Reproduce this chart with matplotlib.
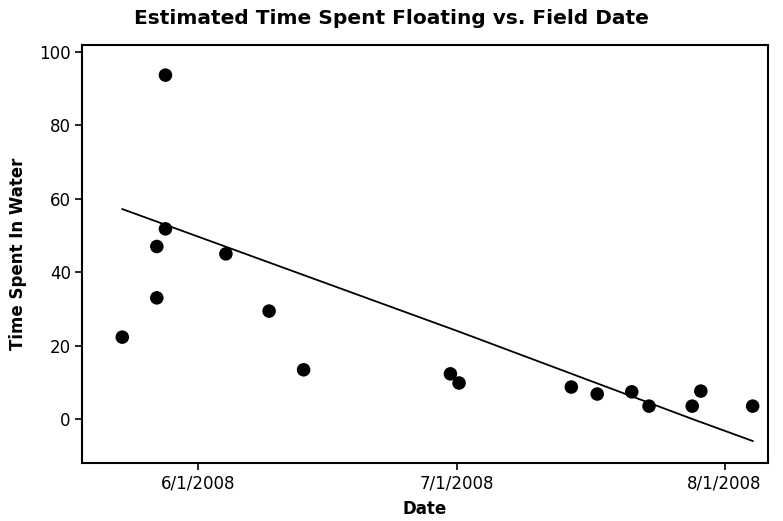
import datetime as dt
import matplotlib
matplotlib.use("Agg")
import matplotlib.pyplot as plt
import matplotlib.dates as mdates

# field dates and estimated time spent in water
fechas = ["2008-05-23", "2008-05-27", "2008-05-27", "2008-05-28", "2008-05-28",
          "2008-06-04", "2008-06-09", "2008-06-13", "2008-06-30", "2008-07-01",
          "2008-07-14", "2008-07-17", "2008-07-21", "2008-07-23", "2008-07-28",
          "2008-07-29", "2008-08-04"]
tiempo_agua = [22.3, 33.0, 47.0, 93.7, 51.8, 45.0, 29.4, 13.4, 12.3, 9.8,
               8.7, 6.8, 7.4, 3.5, 3.5, 7.6, 3.5]

# fitted line
fechas_linea = ["2008-05-23", "2008-06-01", "2008-07-01", "2008-07-28", "2008-08-04"]
valores_linea = [57.2, 49.5, 23.8, 0.0, -6.0]

ticks_x = ["2008-06-01", "2008-07-01", "2008-08-01"]
ticks_y = [0, 20, 40, 60, 80, 100]

def a_fecha(lista):
    # field visits plotted a few hours into the day
    return [dt.datetime.strptime(f, "%Y-%m-%d") + dt.timedelta(hours=6) for f in lista]

fig = plt.figure(figsize=(7.83, 5.21), dpi=100)
ax = fig.add_axes([0.1047, 0.1113, 0.8763, 0.8023])

ax.plot(a_fecha(fechas_linea), valores_linea, color="black", lw=1.3, zorder=2)
ax.scatter(a_fecha(fechas), tiempo_agua, s=95, color="black", zorder=3, edgecolors="none")

ax.set_xlim(mdates.date2num(dt.datetime(2008, 5, 18, 14)), mdates.date2num(dt.datetime(2008, 8, 6, 1)))
ax.set_ylim(-12.0, 101.9)
ax.set_xticks([dt.datetime.strptime(f, "%Y-%m-%d") for f in ticks_x])
ax.xaxis.set_major_formatter(mdates.DateFormatter("%-m/%-d/%Y"))
ax.set_yticks(ticks_y)
ax.tick_params(direction="out", length=5, width=1.2, labelsize=12, colors="black", pad=3)

for lado in ax.spines.values():
    lado.set_linewidth(1.5)

ax.set_xlabel("Date", fontsize=12, fontweight="bold", labelpad=6)
ax.set_ylabel("Time Spent In Water", fontsize=12, fontweight="bold", labelpad=9)
fig.suptitle("Estimated Time Spent Floating vs. Field Date", fontsize=14.5, fontweight="bold", y=0.982)

fig.savefig("out.png", dpi=100)
